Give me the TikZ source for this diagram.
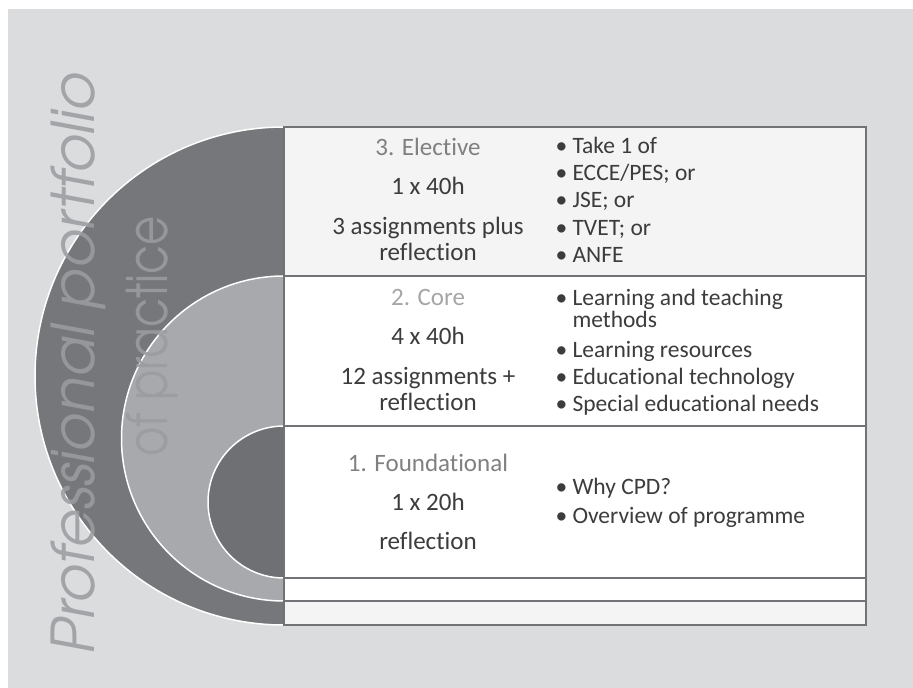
\documentclass[tikz,border=0pt]{standalone}
\usepackage{fontspec}
\setmainfont{Carlito}[Ligatures=NoCommon]
\newfontfamily\gothicfont{texgyreadventor}[Extension=.otf,UprightFont=*-regular,ItalicFont=*-italic]
\usepackage{xcolor}
\usepackage{tikz}
\usetikzlibrary{positioning}
\definecolor{slidebg}{HTML}{DBDCDE}
\definecolor{ringouter}{HTML}{76777B}
\definecolor{ringmiddle}{HTML}{A8A9AD}
\definecolor{ringinner}{HTML}{6F7074}
\definecolor{frame}{HTML}{727376}
\definecolor{headgray}{HTML}{808080}
\definecolor{corehead}{HTML}{A6A6A6}
\definecolor{bodygray}{HTML}{3C3C3C}
\definecolor{sidegray}{HTML}{9B9CA0}
\definecolor{paleband}{HTML}{F4F4F4}

\begin{document}
\begin{tikzpicture}[x=1pt,y=-1pt,
	bandframe/.style={draw=frame,line width=2.2pt},
	ringline/.style={draw=white,line width=1.5pt},
	headtext/.style={anchor=base,text=headgray,font=\fontsize{25}{25}\selectfont},
	bodytext/.style={anchor=base,text=bodygray,font=\fontsize{25}{25}\selectfont},
	itemtext/.style={anchor=base west,text=bodygray,font=\fontsize{23.5}{23.5}\selectfont},
	sidetext/.style={rotate=90,anchor=base west,text=sidegray,text opacity=0.87,inner sep=0pt}]
		\useasboundingbox (0,0) rectangle (913,688);
		\fill[slidebg] (8,9) rectangle (913,688);
		% rings
		\filldraw[ringline,fill=ringouter] (284,376) circle (249);
		\filldraw[ringline,fill=ringmiddle] (284,438.5) circle (162.5);
		\filldraw[ringline,fill=ringinner] (284,502) circle (76);
		\node[sidetext,font=\gothicfont\itshape\fontsize{59}{59}\selectfont] (portfolio) at (94,655) {Professional portfolio};
		\node[sidetext,font=\gothicfont\fontsize{56}{56}\selectfont] (practice) at (167,457) {\scalebox{0.8}[1]{of practice}};
		% bands
		\draw[bandframe,fill=paleband] (284,127) rectangle (866,276);
		\draw[bandframe,fill=white] (284,276) rectangle (866,426);
		\draw[bandframe,fill=white] (284,426) rectangle (866,578);
		\draw[bandframe,fill=white] (284,578) rectangle (866,601);
		\draw[bandframe,fill=paleband] (284,601) rectangle (866,625);
		% left column
		\node[headtext] (elective) at (428,155) {3. Elective};
		\node[headtext,text=corehead] (core) at (428,305) {2. Core};
		\node[headtext] (found) at (428,471) {1. Foundational};
		\foreach \y/\t [count=\i] in {194/{1 x 40h},234/{3 assignments plus},260/{reflection},
			344/{4 x 40h},384/{12 assignments +},410/{reflection},
			510/{1 x 20h},549/{reflection}}
		\node[bodytext] (left-\i) at (428,\y) {\t};
		% bullet column
		\foreach \y/\t [count=\i] in {153/{Take 1 of},180/{ECCE/PES; or},207/{JSE; or},235/{TVET; or},262/{ANFE},
			305/{Learning and teaching},357/{Learning resources},384/{Educational technology},411/{Special educational needs},
			494/{Why CPD?},523/{Overview of programme}}
		\node[itemtext] (item-\i) at (552,\y) {\makebox[17pt][l]{\textbullet}\t};
		\node[itemtext] (methods) at (569,327) {methods};
	\end{tikzpicture}
\end{document}
